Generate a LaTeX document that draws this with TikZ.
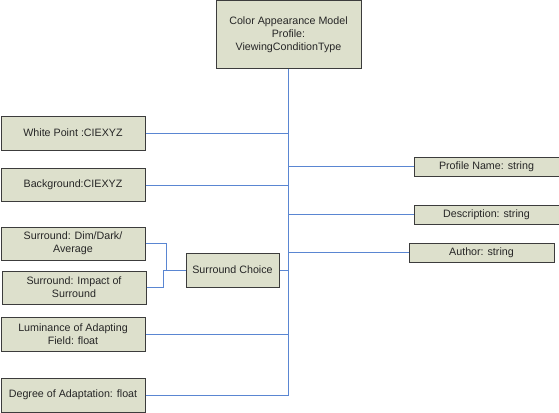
\documentclass[tikz,border=0pt]{standalone}
\usepackage{fontspec}
\setmainfont{Liberation Sans}
\definecolor{boxfill}{HTML}{DDE0CC}
\definecolor{boxline}{HTML}{3C3C3C}
\definecolor{conn}{HTML}{5A86D2}
\begin{document}
\begin{tikzpicture}[x=1pt,y=-1pt,
  cls/.style={draw=boxline,fill=boxfill,line width=1pt,inner sep=1pt,align=center,
    font=\fontsize{10.7}{12.8}\selectfont,text=black!85},
  wire/.style={draw=conn,line width=1pt}]
\useasboundingbox (0,0) rectangle (559,412);
\node[cls,minimum width=145,minimum height=67] (top) at (288.5,34.5) {Color Appearance Model\\Profile:\\ViewingConditionType};
\node[cls,minimum width=144,minimum height=34] (wp) at (73,133) {White Point :CIEXYZ};
\node[cls,minimum width=144,minimum height=33] (bg) at (73,185) {Background:CIEXYZ};
\node[cls,minimum width=144,minimum height=33] (sd) at (73,243.5) {Surround: Dim/Dark/\\Average};
\node[cls,minimum width=144,minimum height=33] (si) at (74,287.5) {Surround: Impact of\\Surround};
\node[cls,minimum width=93,minimum height=34] (sc) at (232.5,270) {Surround Choice};
\node[cls,minimum width=144,minimum height=34] (lum) at (73,334) {Luminance of Adapting\\Field: float};
\node[cls,minimum width=144,minimum height=34] (deg) at (73,395) {Degree of Adaptation: float};
\node[cls,minimum width=145,minimum height=19] (pn) at (486.5,166.5) {Profile Name: string};
\node[cls,minimum width=145,minimum height=19] (desc) at (486.5,214.5) {Description: string};
\node[cls,minimum width=145,minimum height=19] (auth) at (481.5,252.5) {Author: string};
\coordinate (j1) at (166,270);
\coordinate (j2) at (163,270);
% trunk
\draw[wire] (top.south) -- (top.south |- deg.east);
\draw[wire] (wp.east) -- (wp.east -| top.south);
\draw[wire] (bg.east) -- (bg.east -| top.south);
\draw[wire] (lum.east) -- (lum.east -| top.south);
\draw[wire] (deg.east) -- (deg.east -| top.south);
\draw[wire] (sc.east) -- (sc.east -| top.south);
\draw[wire] (pn.west) -- (pn.west -| top.south);
\draw[wire] (desc.west) -- (desc.west -| top.south);
\draw[wire] (auth.west) -- (auth.west -| top.south);
\draw[wire] (sd.east) -| (j1) -- (sc.west);
\draw[wire] (si.east) -| (j2) -- (j1);
\end{tikzpicture}
\end{document}
